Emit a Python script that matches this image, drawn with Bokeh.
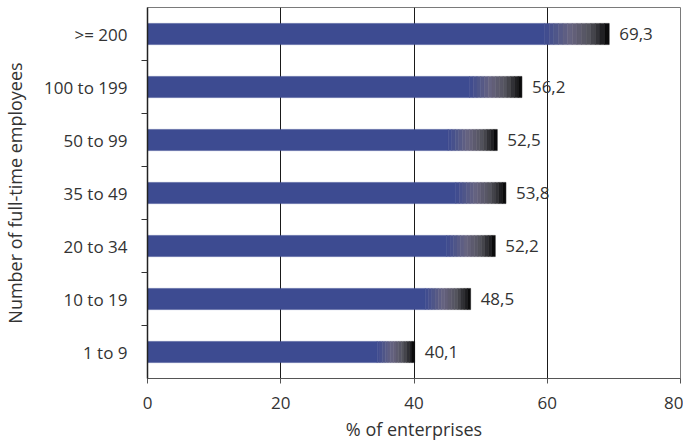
from bokeh.plotting import figure
from bokeh.models import ColumnDataSource, FixedTicker, Range1d
from bokeh.core.properties import value
from bokeh.embed import file_html
from bokeh.resources import INLINE

categories = ["1 to 9", "10 to 19", "20 to 34", "35 to 49", "50 to 99", "100 to 199", ">= 200"]
percent = [40.1, 48.5, 52.2, 53.8, 52.5, 56.2, 69.3]
x_ticks = [0, 20, 40, 60, 80]

FONT = "Open Sans"
TXT = "#333333"
FS = "17px"
FS_TITLE = "18px"
BLUE = (61, 75, 145)

p = figure(width=683, height=443, output_backend="svg", toolbar_location=None,
           x_range=Range1d(0, 80), y_range=Range1d(-0.5, len(categories) - 0.5),
           min_border_left=147, min_border_right=3, min_border_top=7, min_border_bottom=65)

# solid part of bars
idx = list(range(len(categories)))
FADE = 0.14
solid = ColumnDataSource(dict(y=idx, right=[v * (1 - FADE) for v in percent]))
p.hbar(y="y", left=0, right="right", height=0.4, source=solid,
       fill_color="#3d4b91", line_color="#3d4b91", line_width=0.5)

# gradient end of bars
def lerp(a, b, t):
    return tuple(int(round(a[i] + (b[i] - a[i]) * t)) for i in range(3))

stops = [(0.0, BLUE), (0.4, (102, 99, 128)), (0.7, (82, 82, 90)), (0.9, (30, 30, 33)), (1.0, (0, 0, 0))]
def grad(t):
    for (t0, c0), (t1, c1) in zip(stops[:-1], stops[1:]):
        if t <= t1:
            return lerp(c0, c1, (t - t0) / (t1 - t0))
    return stops[-1][1]

N = 14
ys, ls, rs, cs = [], [], [], []
for i, v in enumerate(percent):
    for k in range(N):
        ys.append(i)
        ls.append(v * (1 - FADE + FADE * k / N))
        rs.append(v * (1 - FADE + FADE * (k + 1) / N))
        c = grad((k + 0.5) / N)
        cs.append("#%02x%02x%02x" % c)
strips = ColumnDataSource(dict(y=ys, left=ls, right=rs, color=cs))
p.hbar(y="y", left="left", right="right", height=0.4, source=strips,
       fill_color="color", line_color="color", line_width=0.5)

# value labels
labels = ColumnDataSource(dict(x=percent, y=idx, t=[("%.1f" % v).replace(".", ",") for v in percent]))
p.text(x="x", y="y", text="t", source=labels, x_offset=10, text_baseline="middle",
       text_align="left", text_font=value(FONT), text_font_size=FS, text_color=TXT)

# grid
p.ygrid.grid_line_color = None
p.xgrid.ticker = FixedTicker(ticks=[20, 40, 60])
p.xgrid.grid_line_color = "#1a1a1a"
p.xgrid.grid_line_width = 1
p.xgrid.level = "underlay"
p.outline_line_color = "#7a7a7a"
p.outline_line_width = 1

# x axis
xa = p.xaxis[0]
xa.ticker = FixedTicker(ticks=x_ticks)
xa.axis_label = "% of enterprises"
xa.axis_line_color = "#555555"
xa.major_tick_line_color = "#555555"
xa.major_tick_out = 5
xa.major_tick_in = 0
xa.minor_tick_line_color = None
xa.major_label_standoff = 13
xa.axis_label_standoff = 5
xa.major_label_text_font = FONT
xa.major_label_text_font_size = FS
xa.major_label_text_color = TXT
xa.axis_label_text_font = FONT
xa.axis_label_text_font_size = FS_TITLE
xa.axis_label_text_font_style = "normal"
xa.axis_label_text_color = TXT

# y axis
ya = p.yaxis[0]
ya.ticker = FixedTicker(ticks=idx, minor_ticks=[i + 0.5 for i in idx[:-1]])
ya.major_label_overrides = {i: c for i, c in enumerate(categories)}
ya.axis_label = "Number of full-time employees"
ya.axis_line_color = "#222222"
ya.axis_line_width = 1.5
ya.major_tick_line_color = None
ya.minor_tick_line_color = "#333333"
ya.minor_tick_out = 6
ya.minor_tick_in = 0
ya.major_label_standoff = 14
ya.axis_label_standoff = 14
ya.major_label_text_font = FONT
ya.major_label_text_font_size = FS
ya.major_label_text_color = TXT
ya.axis_label_text_font = FONT
ya.axis_label_text_font_size = FS_TITLE
ya.axis_label_text_font_style = "normal"
ya.axis_label_text_color = TXT

p.background_fill_color = "white"
p.border_fill_color = "white"

open("out.html", "w").write(file_html(p, INLINE))
